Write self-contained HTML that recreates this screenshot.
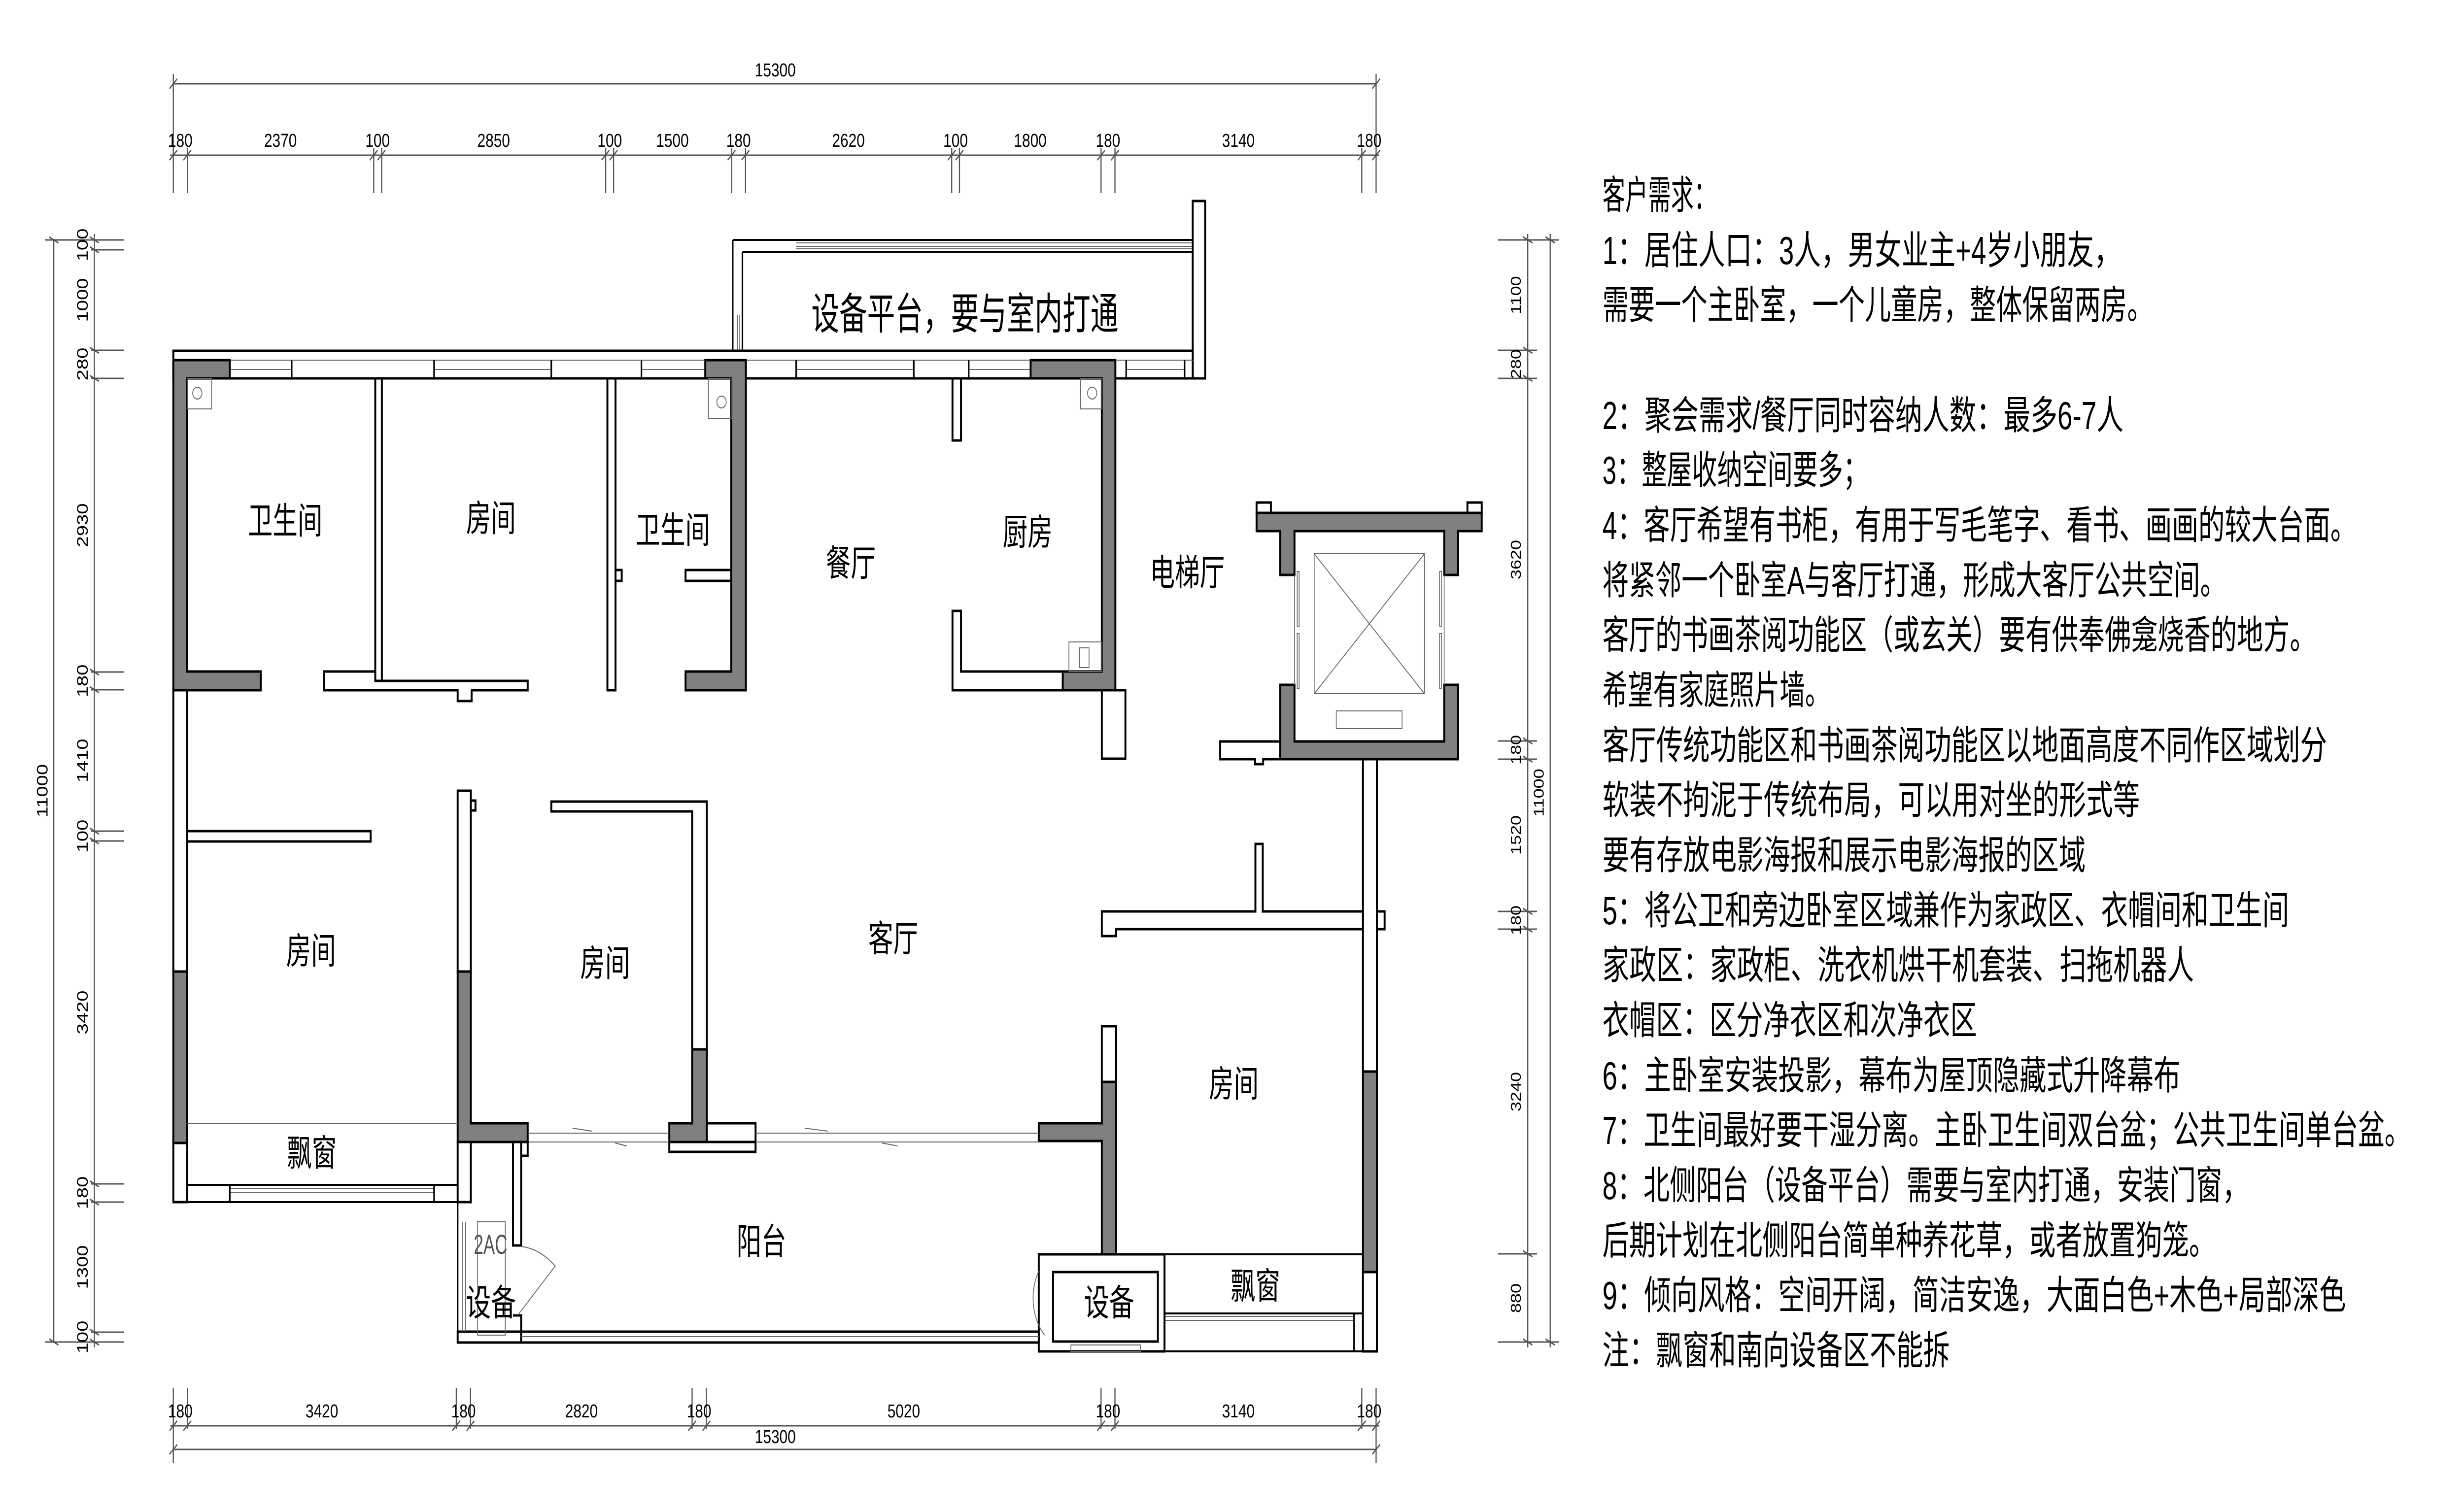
<!DOCTYPE html>
<html><head><meta charset="utf-8"><style>
html,body{margin:0;padding:0;background:#fff;width:100%;height:100%;overflow:hidden;}
svg{display:block;width:100vw;height:100vh}
.w{fill:#fff;stroke:#000;stroke-width:5}
.g{fill:#808080;stroke:#000;stroke-width:5}
.l{stroke:#000;stroke-width:4;fill:none}
.t{stroke:#666;stroke-width:2;fill:none}
.d{stroke:#555;stroke-width:3;fill:none}
.dt{font-family:"Liberation Sans",sans-serif;font-size:38px;fill:#000;text-anchor:middle}
.rm{font-family:"Liberation Sans","Noto Sans CJK SC",sans-serif;font-size:74px;fill:#000;text-anchor:middle}
.nt{font-family:"Liberation Sans","Noto Sans CJK SC",sans-serif;font-size:80px;fill:#000}
</style></head><body>
<svg viewBox="0 0 6369 3067" preserveAspectRatio="none" xmlns="http://www.w3.org/2000/svg">
<!-- TOP DIMENSIONS -->
<g class="d">
<line x1="448" y1="170" x2="3557" y2="170"/>
<line x1="448" y1="150" x2="448" y2="392"/><line x1="3557" y1="150" x2="3557" y2="392"/>
<line x1="438" y1="180" x2="458" y2="160"/><line x1="3547" y1="180" x2="3567" y2="160"/>
<line x1="440" y1="315" x2="3565" y2="315"/>
<line x1="484.6" y1="300" x2="484.6" y2="392"/><line x1="966" y1="300" x2="966" y2="392"/><line x1="986.5" y1="300" x2="986.5" y2="392"/>
<line x1="1565.6" y1="300" x2="1565.6" y2="392"/><line x1="1586" y1="300" x2="1586" y2="392"/><line x1="1891" y1="300" x2="1891" y2="392"/>
<line x1="1927" y1="300" x2="1927" y2="392"/><line x1="2460" y1="300" x2="2460" y2="392"/><line x1="2480" y1="300" x2="2480" y2="392"/>
<line x1="2846" y1="300" x2="2846" y2="392"/><line x1="2882" y1="300" x2="2882" y2="392"/><line x1="3520" y1="300" x2="3520" y2="392"/>
<path d="M438 325l20-20M474 325l20-20M956 325l20-20M976 325l20-20M1555 325l20-20M1576 325l20-20M1881 325l20-20M1917 325l20-20M2450 325l20-20M2470 325l20-20M2836 325l20-20M2872 325l20-20M3510 325l20-20M3547 325l20-20"/>
</g>
<g class="dt">
<text x="2004" y="155">15300</text>
<text x="466" y="298">180</text><text x="725" y="298">2370</text><text x="976" y="298">100</text><text x="1276" y="298">2850</text>
<text x="1576" y="298">100</text><text x="1738" y="298">1500</text><text x="1909" y="298">180</text><text x="2193" y="298">2620</text>
<text x="2470" y="298">100</text><text x="2663" y="298">1800</text><text x="2864" y="298">180</text><text x="3201" y="298">3140</text><text x="3539" y="298">180</text>
</g>
<!-- BOTTOM DIMENSIONS -->
<g class="d">
<line x1="440" y1="2894" x2="3565" y2="2894"/>
<line x1="448" y1="2942" x2="3557" y2="2942"/>
<path d="M448 2817V2969M484.6 2817V2900M1179.5 2817V2900M1216 2817V2900M1789 2817V2900M1825.7 2817V2900M2846 2817V2900M2882 2817V2900M3520 2817V2900M3557 2817V2969"/>
<path d="M438 2904l20-20M474 2904l20-20M1169 2904l20-20M1206 2904l20-20M1779 2904l20-20M1816 2904l20-20M2836 2904l20-20M2872 2904l20-20M3510 2904l20-20M3547 2904l20-20M438 2952l20-20M3547 2952l20-20"/>
</g>
<g class="dt">
<text x="466" y="2877">180</text><text x="832" y="2877">3420</text><text x="1198" y="2877">180</text><text x="1503" y="2877">2820</text>
<text x="1807" y="2877">180</text><text x="2336" y="2877">5020</text><text x="2864" y="2877">180</text><text x="3201" y="2877">3140</text><text x="3539" y="2877">180</text>
<text x="2004" y="2929">15300</text>
</g>
<!-- LEFT DIMENSIONS -->
<g class="d">
<line x1="139" y1="487" x2="139" y2="2724"/>
<line x1="244" y1="475" x2="244" y2="2735"/>
<path d="M116 487H321M116 2724H321M235 507H321M235 711H321M235 768H321M235 1364H321M235 1400H321M235 1687H321M235 1707H321M235 2403H321M235 2440H321M235 2704H321"/>
<path d="M127 481l24 12M232 481l24 12M232 501l24 12M232 705l24 12M232 762l24 12M232 1358l24 12M232 1394l24 12M232 1681l24 12M232 1701l24 12M232 2397l24 12M232 2434l24 12M232 2698l24 12M232 2718l24 12M127 2718l24 12"/>
</g>
<g class="dt" style="font-size:40px">
<text transform="translate(227,497) rotate(-90)">100</text>
<text transform="translate(227,609) rotate(-90)">1000</text>
<text transform="translate(227,739) rotate(-90)">280</text>
<text transform="translate(227,1066) rotate(-90)">2930</text>
<text transform="translate(227,1382) rotate(-90)">180</text>
<text transform="translate(227,1544) rotate(-90)">1410</text>
<text transform="translate(227,1697) rotate(-90)">100</text>
<text transform="translate(227,2055) rotate(-90)">3420</text>
<text transform="translate(227,2421) rotate(-90)">180</text>
<text transform="translate(227,2572) rotate(-90)">1300</text>
<text transform="translate(227,2714) rotate(-90)">100</text>
<text transform="translate(123,1605) rotate(-90)">11000</text>
</g>
<!-- RIGHT DIMENSIONS -->
<g class="d">
<line x1="3949" y1="475" x2="3949" y2="2735"/>
<line x1="4007" y1="475" x2="4007" y2="2735"/>
<path d="M3872 487H4030M3872 2724H4030M3872 711H3973M3872 768H3973M3872 1504H3973M3872 1541H3973M3872 1850H3973M3872 1886H3973M3872 2545H3973"/>
<path d="M3937 481l24 12M3995 481l24 12M3937 705l24 12M3937 762l24 12M3937 1498l24 12M3937 1535l24 12M3937 1844l24 12M3937 1880l24 12M3937 2539l24 12M3937 2718l24 12M3995 2718l24 12"/>
</g>
<g class="dt" style="font-size:36px">
<text transform="translate(3931,599) rotate(-90)">1100</text>
<text transform="translate(3931,739) rotate(-90)">280</text>
<text transform="translate(3931,1136) rotate(-90)">3620</text>
<text transform="translate(3931,1522) rotate(-90)">180</text>
<text transform="translate(3931,1695) rotate(-90)">1520</text>
<text transform="translate(3931,1868) rotate(-90)">180</text>
<text transform="translate(3931,2216) rotate(-90)">3240</text>
<text transform="translate(3931,2635) rotate(-90)">880</text>
<text transform="translate(3990,1609) rotate(-90)">11000</text>
</g>

<!-- PLAN -->
<rect class="w" x="3083" y="408" width="32" height="360"/>
<path class="l" d="M1894 487H3083M1919 511H3083M1894 487V712M1919 511V712"/>
<path class="t" d="M2058 493H3080M2058 500H3080M2058 505H3080M1906 640V710M1912 640V710"/>
<text class="rm" style="font-size:88px" transform="translate(2494,668) scale(0.82,1)">设备平台，要与室内打通</text>
<rect class="w" x="448" y="712" width="2635" height="56"/>
<path class="t" d="M484 731H3083"/>
<path class="t" d="M594 750H754M1122 750H1425M1658 750H1823M2058 750H2362M2504 750H2664M2911 750H3062"/>
<path class="l" d="M594 731V768M754 731V768M1122 731V768M1425 731V768M1658 731V768M1823 731V768M2058 731V768M2362 731V768M2504 731V768M2664 731V768M2911 731V768M3062 731V768"/>
<path class="g" d="M448 731H594V768H484V1363H674V1401H448Z"/>
<path class="g" d="M1823 731H1928V1401H1772V1363H1890V768H1823Z"/>
<path class="g" d="M2664 731H2883V1401H2747V1363H2848V768H2664Z"/>
<rect class="w" x="448" y="1401" width="36" height="571"/>
<rect class="g" x="448" y="1972" width="36" height="348"/>
<rect class="w" x="448" y="2320" width="36" height="120"/>
<rect class="w" x="970" y="768" width="17" height="614"/>
<path class="w" d="M838 1363H970V1382H1364V1401H1219V1423H1183V1401H838Z"/>
<rect class="w" x="1570" y="768" width="21" height="633"/>
<rect class="w" x="1591" y="1157" width="16" height="22"/>
<rect class="w" x="1772" y="1157" width="118" height="22"/>
<rect class="w" x="2462" y="768" width="22" height="126"/>
<path class="w" d="M2462 1240H2484V1363H2747V1401H2462Z"/>
<rect class="w" x="2848" y="1401" width="61" height="139"/>
<rect class="t" x="484" y="768" width="63" height="62"/><circle class="t" cx="510" cy="798" r="12"/>
<rect class="t" x="1831" y="768" width="59" height="81"/><circle class="t" cx="1865" cy="816" r="12"/>
<rect class="t" x="2793" y="768" width="55" height="62"/><circle class="t" cx="2823" cy="798" r="12"/>
<rect class="t" x="2763" y="1303" width="85" height="60"/><rect class="t" x="2790" y="1315" width="25" height="40"/>
<!-- elevator core -->
<rect class="w" x="3248" y="1020" width="37" height="21"/>
<rect class="w" x="3793" y="1020" width="37" height="21"/>
<path class="g" d="M3248 1041H3830V1078H3769V1167H3733V1078H3346V1167H3309V1078H3248Z"/>
<path class="g" d="M3309 1390H3346V1505H3733V1390H3769V1541H3309Z"/>
<rect class="t" x="3397" y="1124" width="285" height="284"/>
<path class="t" d="M3397 1124L3682 1408M3682 1124L3397 1408"/>
<rect class="t" x="3454" y="1443" width="170" height="36"/>
<path class="t" d="M3346 1167V1390M3733 1167V1390"/>
<rect class="t" x="3353" y="1160" width="5" height="111"/><rect class="t" x="3353" y="1286" width="5" height="112"/>
<rect class="t" x="3721" y="1160" width="5" height="111"/><rect class="t" x="3721" y="1286" width="5" height="112"/>
<path class="w" d="M3154 1505H3309V1541H3265V1551H3244V1541H3154Z"/>
<rect class="w" x="3523" y="1541" width="36" height="634"/>
<rect class="g" x="3523" y="2175" width="36" height="407"/>
<rect class="w" x="3523" y="2582" width="36" height="161"/>
<rect class="w" x="3559" y="1850" width="20" height="36"/>
<path class="w" d="M2848 1850H3245V1713H3264V1850H3523V1886H2885V1900H2848Z"/>
<rect class="w" x="2848" y="2083" width="37" height="113"/>
<path class="g" d="M2848 2196H2885V2546H3010V2582H2848V2316H2685V2280H2848Z"/>
<path class="l" d="M3010 2546H3523"/>
<path class="t" d="M3010 2672H3500M3010 2680H3500"/>
<path class="l" d="M3010 2666H3523M3010 2743H3559M3500 2666V2743"/>
<rect class="w" x="2685" y="2546" width="325" height="197"/>
<rect class="w" x="2722" y="2582" width="271" height="141"/>
<rect class="t" x="2768" y="2730" width="180" height="13"/>
<path class="t" d="M2685 2580A110 110 0 0 0 2700 2710"/>
<rect class="w" x="1183" y="1605" width="34" height="367"/>
<rect class="w" x="1217" y="1625" width="12" height="20"/>
<path class="g" d="M1183 1972H1217V2280H1364V2318H1183Z"/>
<rect class="w" x="484" y="1687" width="474" height="21"/>
<path class="w" d="M1425 1627H1827V2280H1789V1647H1425Z"/>
<path class="g" d="M1789 2130H1827V2318H1730V2280H1789Z"/>
<rect class="w" x="1827" y="2280" width="126" height="38"/>
<rect class="w" x="1730" y="2318" width="223" height="20"/>
<path class="t" d="M1364 2300H1730M1364 2318H1730M1953 2300H2685M1953 2318H2685M1480 2290L1530 2296M2080 2290L2140 2296M2280 2320L2320 2326M1590 2320L1620 2326"/>
<path class="t" d="M484 2280H1183"/>
<path class="l" d="M448 2440H1217M484 2405H1183"/>
<path class="t" d="M594 2412H1122M594 2420H1122"/>
<path class="l" d="M594 2405V2440M1122 2405V2440"/>
<rect class="w" x="1183" y="2318" width="34" height="122"/>
<rect class="w" x="1326" y="2318" width="21" height="210"/>
<rect class="w" x="1347" y="2318" width="17" height="28"/>
<path class="w" d="M1326 2670H1347V2703H1183V2725H1347V2670Z"/>
<path class="l" d="M1183 2440V2725M1183 2703H1326M1183 2725H1347"/>
<path class="t" d="M1196 2480V2703M1203 2480V2703"/>
<rect class="t" x="1234" y="2480" width="72" height="230"/>
<path class="t" d="M1347 2530A150 150 0 0 1 1435 2570L1338 2670"/>
<text style="font-family:'Liberation Sans',sans-serif;font-size:56px;fill:#555;text-anchor:middle" transform="translate(1268,2545) scale(0.8,1)">2AC</text>
<text class="rm" transform="translate(1269,2670) scale(0.88,1)">设备</text>
<rect class="w" x="1347" y="2703" width="1338" height="22"/>
<path class="t" d="M1347 2713H2685"/>
<text class="rm" transform="translate(2867,2670) scale(0.88,1)">设备</text>
<g class="rm">
<text transform="translate(737,1083) scale(0.87,1)">卫生间</text>
<text transform="translate(1269,1078) scale(0.87,1)">房间</text>
<text transform="translate(1739,1102) scale(0.87,1)">卫生间</text>
<text transform="translate(2199,1169) scale(0.87,1)">餐厅</text>
<text transform="translate(2656,1106) scale(0.87,1)">厨房</text>
<text transform="translate(3069,1188) scale(0.87,1)">电梯厅</text>
<text transform="translate(804,1956) scale(0.87,1)">房间</text>
<text transform="translate(1564,1981) scale(0.87,1)">房间</text>
<text transform="translate(2309,1931) scale(0.87,1)">客厅</text>
<text transform="translate(3189,2226) scale(0.87,1)">房间</text>
<text transform="translate(806,2366) scale(0.87,1)">飘窗</text>
<text transform="translate(3245,2636) scale(0.87,1)">飘窗</text>
<text transform="translate(1968,2546) scale(0.87,1)">阳台</text>
</g>
<!-- NOTES -->
<g class="nt">
<text x="4142" y="424" textLength="295" lengthAdjust="spacingAndGlyphs">客户需求：</text>
<text x="4142" y="536" textLength="1340" lengthAdjust="spacingAndGlyphs">1：居住人口：3人，男女业主+4岁小朋友，</text>
<text x="4142" y="647" textLength="1424" lengthAdjust="spacingAndGlyphs">需要一个主卧室，一个儿童房，整体保留两房。</text>
<text x="4142" y="871" textLength="1347" lengthAdjust="spacingAndGlyphs">2：聚会需求/餐厅同时容纳人数：最多6-7人</text>
<text x="4142" y="982" textLength="687" lengthAdjust="spacingAndGlyphs">3：整屋收纳空间要多；</text>
<text x="4142" y="1094" textLength="1950" lengthAdjust="spacingAndGlyphs">4：客厅希望有书柜，有用于写毛笔字、看书、画画的较大台面。</text>
<text x="4142" y="1206" textLength="1613" lengthAdjust="spacingAndGlyphs">将紧邻一个卧室A与客厅打通，形成大客厅公共空间。</text>
<text x="4142" y="1317" textLength="1845" lengthAdjust="spacingAndGlyphs">客厅的书画茶阅功能区（或玄关）要有供奉佛龛烧香的地方。</text>
<text x="4142" y="1429" textLength="589" lengthAdjust="spacingAndGlyphs">希望有家庭照片墙。</text>
<text x="4142" y="1541" textLength="1873" lengthAdjust="spacingAndGlyphs">客厅传统功能区和书画茶阅功能区以地面高度不同作区域划分</text>
<text x="4142" y="1652" textLength="1389" lengthAdjust="spacingAndGlyphs">软装不拘泥于传统布局，可以用对坐的形式等</text>
<text x="4142" y="1764" textLength="1249" lengthAdjust="spacingAndGlyphs">要有存放电影海报和展示电影海报的区域</text>
<text x="4142" y="1876" textLength="1775" lengthAdjust="spacingAndGlyphs">5：将公卫和旁边卧室区域兼作为家政区、衣帽间和卫生间</text>
<text x="4142" y="1987" textLength="1529" lengthAdjust="spacingAndGlyphs">家政区：家政柜、洗衣机烘干机套装、扫拖机器人</text>
<text x="4142" y="2099" textLength="968" lengthAdjust="spacingAndGlyphs">衣帽区：区分净衣区和次净衣区</text>
<text x="4142" y="2211" textLength="1494" lengthAdjust="spacingAndGlyphs">6：主卧室安装投影，幕布为屋顶隐藏式升降幕布</text>
<text x="4142" y="2322" textLength="2090" lengthAdjust="spacingAndGlyphs">7：卫生间最好要干湿分离。主卧卫生间双台盆；公共卫生间单台盆。</text>
<text x="4142" y="2434" textLength="1670" lengthAdjust="spacingAndGlyphs">8：北侧阳台（设备平台）需要与室内打通，安装门窗，</text>
<text x="4142" y="2546" textLength="1585" lengthAdjust="spacingAndGlyphs">后期计划在北侧阳台简单种养花草，或者放置狗笼。</text>
<text x="4142" y="2657" textLength="1922" lengthAdjust="spacingAndGlyphs">9：倾向风格：空间开阔，简洁安逸，大面白色+木色+局部深色</text>
<text x="4142" y="2769" textLength="898" lengthAdjust="spacingAndGlyphs">注：飘窗和南向设备区不能拆</text>
</g>
</svg>
</body></html>
